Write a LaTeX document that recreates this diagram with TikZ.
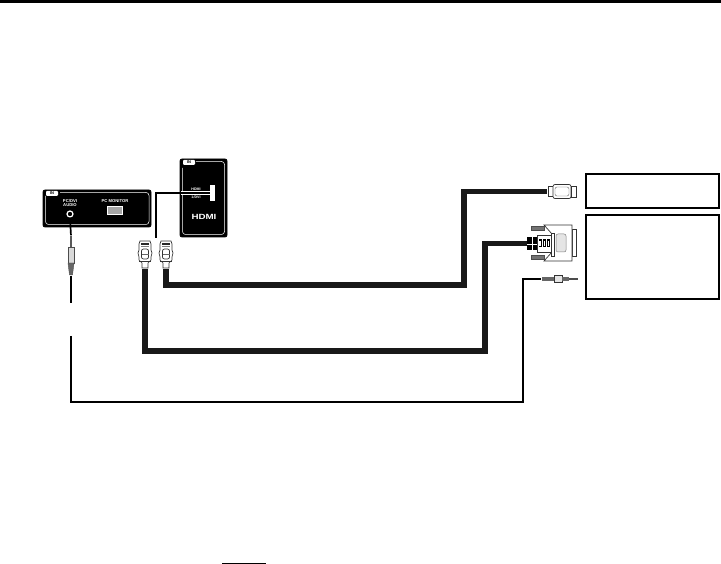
\documentclass[tikz,border=0pt]{standalone}
\usepackage{fontspec}
\setmainfont{Liberation Sans}
\usetikzlibrary{positioning}
\usetikzlibrary{calc}

\begin{document}
\begin{tikzpicture}[
    x=1pt,
    y=-1pt,
    panel/.style={
        draw=black,
        fill=black,
        rounded corners=2pt,
        line width=0.8pt,
        inner sep=0pt,
    },
    inset/.style={
        draw=white,
        line width=0.5pt,
        rounded corners=3pt,
    },
    tinytext/.style={
        text=white,
        font=\bfseries\fontsize{4.2}{4.6}\selectfont,
        align=center,
        inner sep=0pt,
    },
    intab/.style={
        fill=white,
        text=black,
        font=\bfseries\fontsize{4}{4}\selectfont,
        rounded corners=1pt,
        inner sep=0pt,
        minimum width=12,
        minimum height=5,
    },
    label box/.style={
        draw=black,
        line width=1.2pt,
        inner sep=0pt,
    },
    fatcable/.style={draw=black!90, line width=5.6pt},
    thincable/.style={draw=black, line width=1.7pt},
    shell/.style={draw=black!80, fill=white, line width=0.7pt},
    screw/.style={draw=black!70, fill=black!55, line width=0.5pt},
    pics/hdmiplug/.style={
        code={
            \node[inner sep=0pt, minimum width=6, minimum height=1] (-neck) at (0,14) {};
            \draw[shell] (-5,-13) -- (5,-13) -- (6,-10) -- (6,-4) -- (7,-1) -- (6,3)
                -- (6,6) -- (3,9) -- (3,14) -- (-3,14) -- (-3,9) -- (-6,6) -- (-6,3)
                -- (-7,-1) -- (-6,-4) -- (-6,-10) -- cycle;
            \fill[black!85] (-4,-11) rectangle (4,-8.5);
            \fill[black!50] (-4,-7.5) rectangle (4,-6.5);
            \draw[shell, rounded corners=2pt] (-3.5,-5) rectangle (3.5,5);
            \draw[black!60, line width=0.4pt] (-3.5,0) -- (3.5,0);
            \draw[black!80, line width=0.6pt] (-6,7) -- (6,7);
        }
    },
]
\useasboundingbox (0,0) rectangle (721,564);

% rules
\fill[black] (0,0) rectangle (721,3.4);
\fill[black] (222,562.6) rectangle (266,564);

% panels
\node[panel, minimum width=108, minimum height=37] (pcpanel) at (97,208.5) {};
\draw[inset] (45.5,196) -- (45.5,224.5) -- (149,224.5) -- (149,192.5) -- (60,192.5);
\node[intab] (pctab) at (52,193.5) {IN};
\node[tinytext] (pcaudiotext) at (70,203) {PC/DVI\\AUDIO};
\node[tinytext] (pcmontext) at (115,201) {PC MONITOR};
\node[draw=white, fill=black!35, line width=0.4pt, minimum width=15, minimum height=8,
    inner sep=0pt] (pcmonport) at (115,210) {};
\node[circle, draw=white, fill=black, line width=1.2pt, minimum size=6, inner sep=0pt]
    (pcaudioport) at (70,214) {};

\node[panel, minimum width=47, minimum height=78] (hdmipanel) at (203.5,198) {};
\draw[inset] (182.5,168) -- (182.5,234.5) -- (224.5,234.5) -- (224.5,161.5) -- (196,161.5);
\node[intab] (hdmitab) at (189,162.5) {IN};
\node[tinytext, font=\bfseries\fontsize{3.6}{8}\selectfont] (hdmiporttext) at (196,193) {HDMI\\1/DVI};
\node[tinytext, font=\bfseries\fontsize{7.5}{8}\selectfont] (hdmilogo) at (204,216.5) {\scalebox{1.3}[1]{HDMI}};
\node[draw=white, fill=white, line width=0.5pt, minimum width=4, minimum height=15,
    inner sep=0pt] (hdmiport) at (212,193) {};

% label boxes
\node[label box, minimum width=133, minimum height=34] (boxa) at (652.5,191) {};
\node[label box, minimum width=133, minimum height=84] (boxb) at (652.5,257) {};

% hdmi plugs
\pic (plugl) at (145,254) {hdmiplug};
\pic (plugr) at (166,254) {hdmiplug};

% hdmi end at the right
\draw[shell] (548,186.5) rectangle (553,196.5);
\draw[shell, rounded corners=2pt] (553,184.5) rectangle (571,198.5);
\draw[shell] (571,186) rectangle (576,197);
\draw[black!60, rounded corners=2pt, line width=0.4pt] (555,187) rectangle (569,196);
\node[inner sep=0pt, minimum width=1, minimum height=6] (plugend) at (548,191.5) {};

% dvi plug
\draw[shell] (572,229) rectangle (576,256);
\draw[shell] (544,225) -- (572,225) -- (572,261) -- (544,261) -- (552,252) -- (552,234) -- cycle;
\fill[screw] (531,226.5) rectangle (544,230.5);
\fill[screw] (531,255.5) rectangle (544,259.5);
\draw[shell] (537,235.5) rectangle (552,252);
\foreach \i in {0,1,2} {
    \fill[black] (538.5+\i*4.2,239.5) rectangle ++(3,8);
    \fill[white] (539.3+\i*4.2,241) rectangle ++(1.4,5);
}
\draw[shell] (551,233) rectangle (554.5,256);
\draw[draw=black!50, fill=black!10, rounded corners=2pt, line width=0.5pt] (556,234) rectangle (566,252);
\node[fill=black, inner sep=0pt, minimum width=10, minimum height=13] (dviend) at (532,243.5) {};
\draw[white, line width=0.8pt] (527,244) -- (537,244) (532,237.5) -- (532,250);

% jack at the panel
\fill[black!65] (69.5,236) rectangle (72,247);
\draw[shell, draw=black!70, fill=black!15] (68,247) rectangle (74,263);
\draw[black!70, fill=black!60, line width=0.4pt] (68,263) -- (74,263) -- (72.5,275) -- (69.5,275) -- cycle;
\node[inner sep=0pt, minimum size=1] (jackl) at (71,275) {};
\node[inner sep=0pt, minimum size=1] (jacktip) at (71,236) {};
\draw[thincable] (pcaudioport.south) -- (jacktip);
\coordinate (gapa) at (71,303);
\coordinate (gapb) at (71,336);
\coordinate (bendc) at (523,402);

% jack at the right
\fill[black!60] (542,276.8) rectangle (554,281.2);
\draw[shell, fill=black!10] (554,275.5) rectangle (562,282.5);
\fill[black!60] (562,277) rectangle (569,281);
\fill[black!70] (569,277.8) rectangle (578,280.2);
\node[inner sep=0pt, minimum size=1] (jackr) at (542,279) {};

% cables
\coordinate (benda) at (464,285);
\coordinate (bendb) at (485,351);
\draw[fatcable] (plugr-neck.south) |- (benda) |- (plugend.west);
\draw[fatcable] (plugl-neck.south) |- (bendb) |- (dviend.west);
\draw[thincable] (jackl.south) -- (gapa);
\draw[thincable] (gapb) |- (bendc) |- (jackr.west);

% hdmi lead
\coordinate (leadtop) at (156,193);
\coordinate (leadfoot) at (156,238);
\coordinate (leadin) at (190,193);
\draw[white, line width=3.8pt] (181,193) -- (hdmiport.west);
\draw[thincable] (leadfoot) -- (leadtop) -- (leadin) -- (hdmiport.west);
\end{tikzpicture}
\end{document}
